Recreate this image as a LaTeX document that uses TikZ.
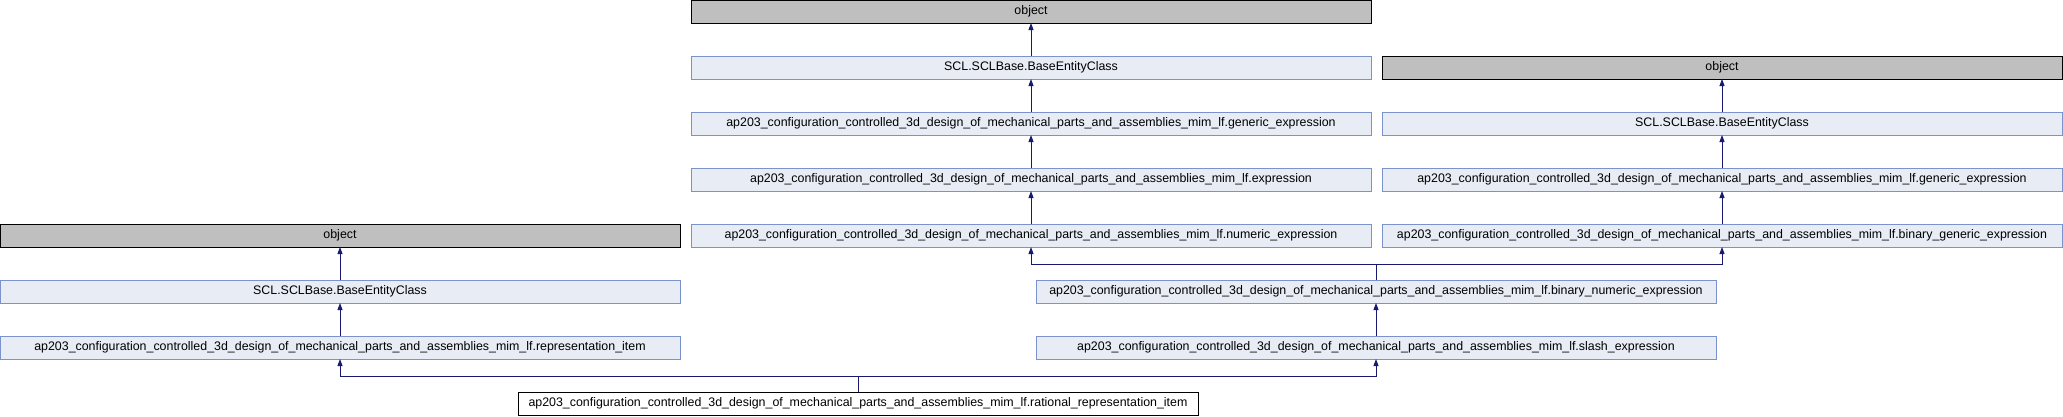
\documentclass[tikz,border=0pt]{standalone}
\usepackage{fontspec}
\setmainfont{Liberation Sans}
\usetikzlibrary{arrows.meta}
\definecolor{boxfill}{RGB}{232,236,245}
\definecolor{boxline}{RGB}{124,146,205}
\definecolor{objfill}{RGB}{191,191,191}
\definecolor{edgecol}{RGB}{25,25,112}
\tikzset{
  cls/.style={draw=boxline, fill=boxfill, line width=0.9pt, anchor=north west,
    minimum width=680pt, minimum height=23pt, inner sep=0pt, outer sep=0pt,
    font=\fontsize{12.4}{14}\selectfont},
  objbox/.style={cls, draw=black, fill=objfill},
  rootbox/.style={cls, draw=black, fill=white},
  inh/.style={draw=edgecol, line width=0.9pt, -{Triangle[width=5pt,length=7pt]}},
  lin/.style={draw=edgecol, line width=0.9pt}
}
\begin{document}
\begin{tikzpicture}[x=1pt,y=-1pt]
\useasboundingbox (0,0) rectangle (2063,416);
% center column
\node[objbox] (o1) at (691,0) {object};
\node[cls] (b1) at (691,56) {SCL.SCLBase.BaseEntityClass};
\node[cls] (g1) at (691,112) {ap203\_configuration\_controlled\_3d\_design\_of\_mechanical\_parts\_and\_assemblies\_mim\_lf.generic\_expression};
\node[cls] (ex) at (691,168) {ap203\_configuration\_controlled\_3d\_design\_of\_mechanical\_parts\_and\_assemblies\_mim\_lf.expression};
\node[cls] (ne) at (691,224) {ap203\_configuration\_controlled\_3d\_design\_of\_mechanical\_parts\_and\_assemblies\_mim\_lf.numeric\_expression};
% right column
\node[objbox] (o2) at (1382,56) {object};
\node[cls] (b2) at (1382,112) {SCL.SCLBase.BaseEntityClass};
\node[cls] (g2) at (1382,168) {ap203\_configuration\_controlled\_3d\_design\_of\_mechanical\_parts\_and\_assemblies\_mim\_lf.generic\_expression};
\node[cls] (bg) at (1382,224) {ap203\_configuration\_controlled\_3d\_design\_of\_mechanical\_parts\_and\_assemblies\_mim\_lf.binary\_generic\_expression};
% middle-right column
\node[cls] (bn) at (1036,280) {ap203\_configuration\_controlled\_3d\_design\_of\_mechanical\_parts\_and\_assemblies\_mim\_lf.binary\_numeric\_expression};
\node[cls] (sl) at (1036,336) {ap203\_configuration\_controlled\_3d\_design\_of\_mechanical\_parts\_and\_assemblies\_mim\_lf.slash\_expression};
% left column
\node[objbox] (o3) at (0,224) {object};
\node[cls] (b3) at (0,280) {SCL.SCLBase.BaseEntityClass};
\node[cls] (ri) at (0,336) {ap203\_configuration\_controlled\_3d\_design\_of\_mechanical\_parts\_and\_assemblies\_mim\_lf.representation\_item};
% root
\node[rootbox] (rr) at (518,392) {ap203\_configuration\_controlled\_3d\_design\_of\_mechanical\_parts\_and\_assemblies\_mim\_lf.rational\_representation\_item};
% edges
\draw[inh] (b1) -- (o1);
\draw[inh] (g1) -- (b1);
\draw[inh] (ex) -- (g1);
\draw[inh] (ne) -- (ex);
\draw[inh] (b2) -- (o2);
\draw[inh] (g2) -- (b2);
\draw[inh] (bg) -- (g2);
\draw[inh] (b3) -- (o3);
\draw[inh] (ri) -- (b3);
\draw[inh] (sl) -- (bn);
\coordinate (j1) at (bn.north |- 0,264);
\draw[lin] (bn.north) -- (j1);
\draw[inh] (j1) -| (ne.south);
\draw[inh] (j1) -| (bg.south);
\coordinate (j2) at (rr.north |- 0,376);
\draw[lin] (rr.north) -- (j2);
\draw[inh] (j2) -| (ri.south);
\draw[inh] (j2) -| (sl.south);
\end{tikzpicture}
\end{document}
